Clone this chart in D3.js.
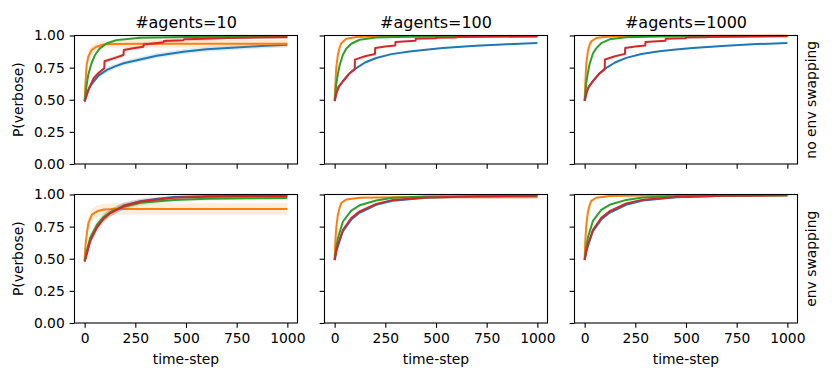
<!DOCTYPE html>
<html>
<head>
<meta charset="utf-8">
<script src="https://cdn.jsdelivr.net/npm/d3@7"></script>
<style>
  html, body { margin: 0; padding: 0; background: #fff; }
  svg { display: block; font-family: "DejaVu Sans", sans-serif; }
</style>
</head>
<body>
<svg id="chart" width="832" height="381"></svg>
<script>
// series order: blue, orange, green, red (matplotlib tab10)
const seriesColors = ['#1f77b4', '#ff7f0e', '#2ca02c', '#d62728'];
const agentCounts  = [10, 100, 1000];
const rowLabels    = ['no env swapping', 'env swapping'];
const xTicks       = [0, 250, 500, 750, 1000];
const yTicks       = [0, 0.25, 0.5, 0.75, 1];

// points: [time-step, P(verbose), ci half-width]
const noSwap10 = [
  [[0,.487,.02],[10,.55,.02],[25,.60,.02],[44,.642,.02],[70,.69,.02],[110,.732,.02],[150,.76,.02],[192,.784,.02],[274,.814,.02],[356,.843,.02],[487,.874,.02],[600,.893,.02],[746,.907,.02],[870,.918,.02],[1000,.928,.02]],
  [[0,.49,.03],[3,.6,.04],[10,.771,.04],[18,.835,.04],[34,.887,.035],[59,.913,.03],[92,.93,.03],[150,.934,.03],[300,.935,.03],[1000,.936,.03]],
  [[0,.49,.01],[5,.55,.01],[10,.616,.01],[18,.694,.01],[34,.784,.01],[51,.848,.01],[75,.90,.01],[108,.938,.01],[157,.964,.01],[274,.982,.01],[500,.988,.01],[1000,.99,.01]],
  [[0,.487,.015],[20,.58,.015],[44,.667,.015],[70,.71,.015],[97,.745,.015],[98,.80,.015],[150,.826,.015],[192,.848,.015],[193,.887,.015],[240,.90,.015],[290,.913,.015],[291,.93,.015],[350,.94,.015],[390,.948,.015],[391,.958,.015],[487,.964,.015],[490,.97,.015],[600,.975,.015],[700,.98,.01],[800,.983,.01],[1000,.986,.01]]
];
const noSwap100 = [
  [[0,.49,.004],[10,.56,.004],[20,.60,.004],[41,.644,.004],[70,.70,.004],[95,.735,.004],[150,.79,.004],[205,.825,.004],[280,.855,.004],[369,.876,.004],[450,.89,.004],[533,.902,.004],[697,.92,.004],[850,.932,.004],[1000,.941,.004]],
  [[0,.495,0],[3,.6,0],[8,.75,0],[16,.85,0],[25,.91,0],[33,.94,0],[57,.974,0],[107,.988,0],[200,.995,0],[1000,.997,0]],
  [[0,.49,0],[8,.62,0],[16,.70,0],[25,.77,0],[41,.85,0],[57,.897,0],[82,.936,0],[123,.967,0],[205,.985,0],[369,.99,0],[1000,.995,0]],
  [[0,.49,0],[10,.56,0],[20,.60,0],[41,.644,0],[70,.70,0],[99,.735,0],[100,.812,0],[150,.838,0],[199,.856,0],[200,.902,0],[250,.914,0],[299,.922,0],[300,.949,0],[399,.959,0],[400,.974,0],[499,.978,0],[500,.983,0],[599,.985,0],[600,.988,0],[1000,.993,0]]
];
const noSwap1000 = [
  [[0,.49,.004],[10,.56,.004],[20,.60,.004],[41,.645,.004],[70,.70,.004],[95,.736,.004],[150,.79,.004],[205,.826,.004],[280,.856,.004],[369,.877,.004],[450,.891,.004],[533,.903,.004],[697,.921,.004],[850,.933,.004],[1000,.942,.004]],
  [[0,.495,0],[3,.62,0],[8,.78,0],[16,.88,0],[25,.93,0],[33,.955,0],[57,.98,0],[107,.99,0],[200,.996,0],[1000,.998,0]],
  [[0,.49,0],[8,.63,0],[16,.71,0],[25,.78,0],[41,.86,0],[57,.90,0],[82,.94,0],[123,.97,0],[205,.987,0],[369,.992,0],[1000,.996,0]],
  [[0,.49,0],[10,.56,0],[20,.60,0],[41,.645,0],[70,.70,0],[99,.736,0],[100,.813,0],[150,.839,0],[199,.857,0],[200,.903,0],[250,.915,0],[299,.923,0],[300,.95,0],[399,.96,0],[400,.975,0],[499,.979,0],[500,.984,0],[599,.986,0],[600,.989,0],[1000,.994,0]]
];
const swap10 = [
  [[0,.48,.02],[10,.54,.03],[28,.648,.03],[61,.75,.03],[94,.817,.03],[127,.86,.03],[193,.914,.025],[275,.948,.02],[350,.965,.015],[439,.98,.01],[600,.987,.01],[800,.99,.01],[1000,.992,.01]],
  [[0,.49,.03],[4,.6,.04],[11,.70,.045],[19,.78,.045],[36,.843,.045],[61,.869,.045],[94,.883,.045],[150,.887,.045],[1000,.888,.045]],
  [[0,.48,.02],[10,.56,.03],[28,.665,.03],[61,.765,.03],[94,.825,.03],[127,.862,.03],[193,.905,.025],[275,.935,.02],[439,.958,.015],[600,.966,.012],[800,.97,.01],[1000,.972,.01]],
  [[0,.48,.02],[10,.535,.03],[28,.64,.03],[61,.745,.03],[94,.812,.03],[127,.856,.03],[193,.91,.025],[275,.945,.02],[439,.975,.01],[600,.983,.01],[800,.986,.01],[1000,.988,.01]]
];
const swap100 = [
  [[0,.49,0],[8,.555,0],[16,.60,0],[41,.715,0],[82,.805,0],[123,.858,0],[205,.92,0],[287,.952,0],[451,.975,0],[700,.985,0],[1000,.99,0]],
  [[0,.50,0],[3,.62,0],[8,.74,0],[16,.843,0],[25,.90,0],[33,.935,0],[57,.961,0],[123,.975,0],[300,.978,0],[1000,.978,0]],
  [[0,.49,0],[8,.59,0],[16,.66,0],[41,.79,0],[82,.875,0],[123,.916,0],[205,.953,0],[287,.974,0],[450,.985,0],[1000,.99,0]],
  [[0,.49,0],[8,.56,0],[16,.608,0],[41,.726,0],[82,.817,0],[123,.869,0],[205,.927,0],[287,.958,0],[451,.977,0],[700,.985,0],[1000,.99,0]]
];
const swap1000 = [
  [[0,.49,0],[8,.555,0],[16,.60,0],[41,.715,0],[82,.805,0],[123,.858,0],[205,.92,0],[287,.953,0],[451,.978,0],[700,.99,0],[1000,.995,0]],
  [[0,.50,0],[3,.63,0],[8,.76,0],[16,.86,0],[25,.92,0],[33,.95,0],[57,.975,0],[123,.988,0],[300,.993,0],[1000,.995,0]],
  [[0,.49,0],[8,.59,0],[16,.665,0],[41,.795,0],[82,.88,0],[123,.92,0],[205,.958,0],[287,.977,0],[450,.988,0],[1000,.995,0]],
  [[0,.49,0],[8,.56,0],[16,.608,0],[41,.726,0],[82,.818,0],[123,.87,0],[205,.93,0],[287,.96,0],[451,.98,0],[700,.99,0],[1000,.995,0]]
];

const panelData = [
  [noSwap10, noSwap100, noSwap1000],
  [swap10,   swap100,   swap1000]
];

// layout (px)
const fs      = 13.89;            // 10pt @ 100dpi
const tick    = 4.86;
const colX    = [74.5, 324.5, 574.5];
const rowY    = [35.5, 194.5];
const panelW  = 223;
const panelH  = 128.5;

const svg = d3.select('#chart');

const x = d3.scaleLinear().domain([-50, 1050]).range([0, panelW]);
const y = d3.scaleLinear().domain([0, 1]).range([panelH, 0]);

const line = d3.line().x(d => x(d[0])).y(d => y(d[1]));
const band = d3.area()
  .x(d => x(d[0]))
  .y0(d => y(d[1] - d[2]))
  .y1(d => y(Math.min(1, d[1] + d[2])));

panelData.forEach((row, ri) => {
  row.forEach((series, ci) => {
    const g = svg.append('g')
      .attr('transform', `translate(${colX[ci]},${rowY[ri]})`);

    // series: band then line, in hue order
    series.forEach((pts, si) => {
      if (d3.max(pts, d => d[2]) > 0) {
        g.append('path')
          .attr('d', band(pts))
          .attr('fill', seriesColors[si])
          .attr('fill-opacity', 0.15)
          .attr('stroke', 'none');
      }
      g.append('path')
        .attr('d', line(pts))
        .attr('fill', 'none')
        .attr('stroke', seriesColors[si])
        .attr('stroke-width', 2)
        .attr('stroke-linejoin', 'round');
    });

    // axes
    const xAxis = d3.axisBottom(x).tickValues(xTicks)
      .tickSize(tick).tickPadding(tick)
      .tickFormat(ri === 1 ? d3.format('d') : '');
    const yAxis = d3.axisLeft(y).tickValues(yTicks)
      .tickSize(tick).tickPadding(tick)
      .tickFormat(ci === 0 ? d3.format('.2f') : '');

    g.append('g').attr('transform', `translate(0,${panelH})`).call(xAxis)
      .call(a => a.select('.domain').remove())
      .call(a => a.selectAll('line').attr('stroke', '#000').attr('stroke-width', 1.1))
      .call(a => a.selectAll('text').attr('fill', '#000').attr('font-size', fs)
        .attr('font-family', '"DejaVu Sans", sans-serif'));
    g.append('g').call(yAxis)
      .call(a => a.select('.domain').remove())
      .call(a => a.selectAll('line').attr('stroke', '#000').attr('stroke-width', 1.1))
      .call(a => a.selectAll('text').attr('fill', '#000').attr('font-size', fs)
        .attr('font-family', '"DejaVu Sans", sans-serif'));

    // frame
    g.append('rect')
      .attr('width', panelW).attr('height', panelH)
      .attr('fill', 'none').attr('stroke', '#000').attr('stroke-width', 1.1);

    if (ri === 0) {
      g.append('text')
        .attr('x', panelW / 2).attr('y', -8)
        .attr('text-anchor', 'middle')
        .attr('font-size', 16)
        .text(`#agents=${agentCounts[ci]}`);
    }
    if (ri === 1) {
      g.append('text')
        .attr('x', panelW / 2).attr('y', panelH + 41)
        .attr('text-anchor', 'middle')
        .attr('font-size', fs)
        .text('time-step');
    }
    if (ci === 0) {
      g.append('text')
        .attr('transform', `translate(${-52},${panelH / 2}) rotate(-90)`)
        .attr('text-anchor', 'middle')
        .attr('font-size', fs)
        .text('P(verbose)');
    }
    if (ci === 2) {
      g.append('text')
        .attr('transform', `translate(${panelW + 18},${panelH / 2}) rotate(-90)`)
        .attr('text-anchor', 'middle')
        .attr('font-size', fs)
        .text(rowLabels[ri]);
    }
  });
});
</script>
</body>
</html>
